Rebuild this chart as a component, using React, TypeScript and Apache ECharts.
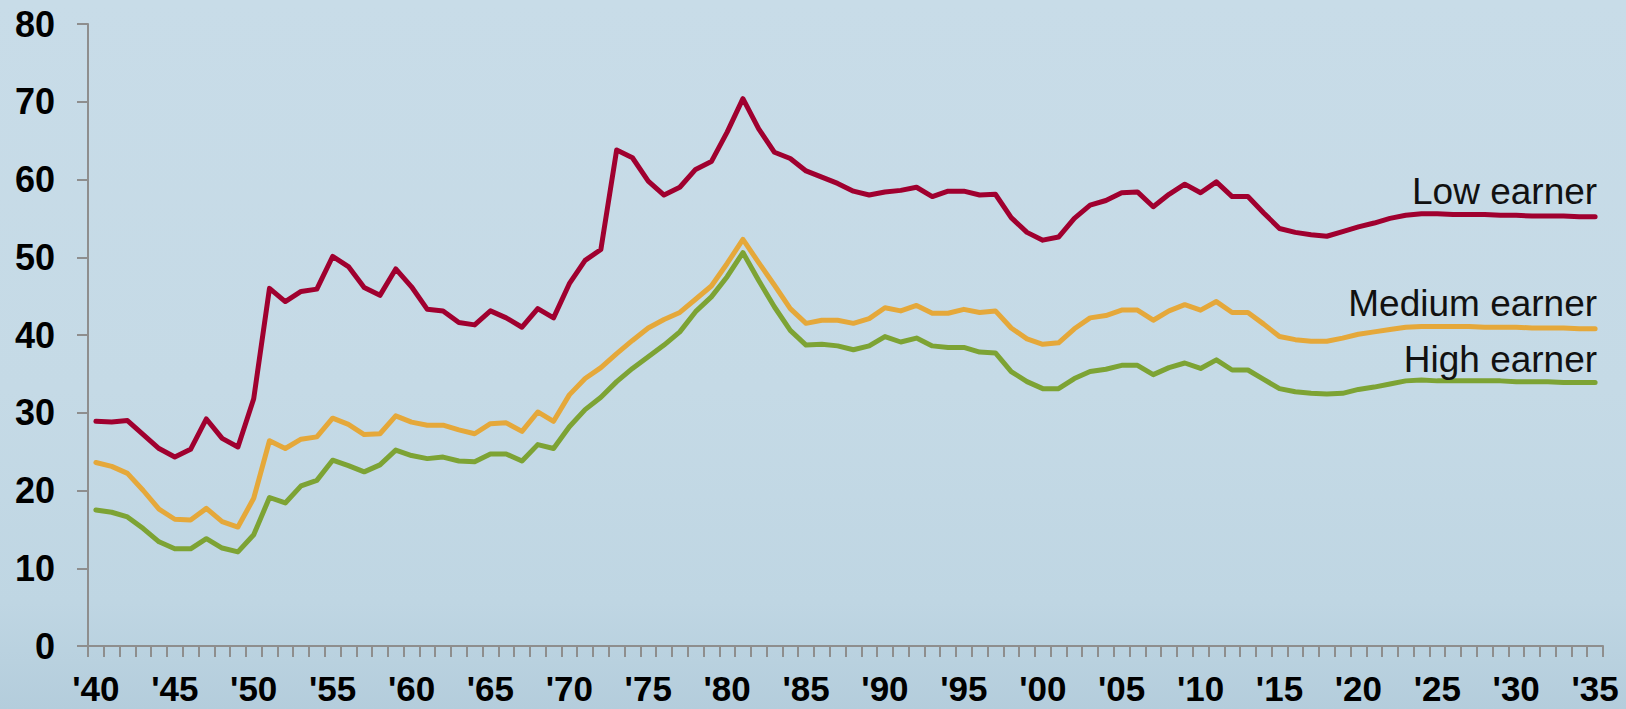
import React, { useEffect, useRef } from "react";
import * as echarts from "echarts";

const years = [
  1940, 1941, 1942, 1943, 1944, 1945, 1946, 1947, 1948, 1949,
  1950, 1951, 1952, 1953, 1954, 1955, 1956, 1957, 1958, 1959,
  1960, 1961, 1962, 1963, 1964, 1965, 1966, 1967, 1968, 1969,
  1970, 1971, 1972, 1973, 1974, 1975, 1976, 1977, 1978, 1979,
  1980, 1981, 1982, 1983, 1984, 1985, 1986, 1987, 1988, 1989,
  1990, 1991, 1992, 1993, 1994, 1995, 1996, 1997, 1998, 1999,
  2000, 2001, 2002, 2003, 2004, 2005, 2006, 2007, 2008, 2009,
  2010, 2011, 2012, 2013, 2014, 2015, 2016, 2017, 2018, 2019,
  2020, 2021, 2022, 2023, 2024, 2025, 2026, 2027, 2028, 2029,
  2030, 2031, 2032, 2033, 2034, 2035,
];

const lowEarner = [
  28.9, 28.8, 29.0, 27.2, 25.4, 24.3, 25.3, 29.2, 26.7, 25.6,
  31.8, 46.0, 44.3, 45.6, 45.9, 50.1, 48.8, 46.1, 45.1, 48.5,
  46.2, 43.3, 43.1, 41.6, 41.3, 43.1, 42.2, 41.0, 43.4, 42.2,
  46.6, 49.6, 51.0, 63.8, 62.8, 59.8, 58.0, 59.0, 61.3, 62.3,
  66.1, 70.4, 66.5, 63.5, 62.7, 61.1, 60.3, 59.5, 58.5, 58.0,
  58.4, 58.6, 59.0, 57.8, 58.5, 58.5, 58.0, 58.1, 55.1, 53.2,
  52.2, 52.6, 55.0, 56.7, 57.3, 58.3, 58.4, 56.5, 58.1, 59.4,
  58.3, 59.7, 57.8, 57.8, 55.7, 53.7, 53.2, 52.9, 52.7, 53.3,
  53.9, 54.4, 55.0, 55.4, 55.6, 55.6, 55.5, 55.5, 55.5, 55.4,
  55.4, 55.3, 55.3, 55.3, 55.2, 55.2,
];

const mediumEarner = [
  23.6, 23.1, 22.2, 20.0, 17.6, 16.3, 16.2, 17.7, 16.0, 15.3,
  19.0, 26.4, 25.4, 26.6, 26.9, 29.3, 28.5, 27.2, 27.3, 29.6,
  28.8, 28.4, 28.4, 27.8, 27.3, 28.6, 28.7, 27.6, 30.1, 28.9,
  32.3, 34.4, 35.8, 37.6, 39.3, 40.9, 42.0, 42.9, 44.6, 46.3,
  49.2, 52.3, 49.3, 46.4, 43.4, 41.5, 41.9, 41.9, 41.5, 42.1,
  43.5, 43.1, 43.8, 42.8, 42.8, 43.3, 42.9, 43.1, 40.9, 39.5,
  38.8, 39.0, 40.8, 42.2, 42.5, 43.2, 43.2, 41.9, 43.1, 43.9,
  43.2, 44.3, 42.9, 42.9, 41.4, 39.8, 39.4, 39.2, 39.2, 39.6,
  40.1, 40.4, 40.7, 41.0, 41.1, 41.1, 41.1, 41.1, 41.0, 41.0,
  41.0, 40.9, 40.9, 40.9, 40.8, 40.8,
];

const highEarner = [
  17.5, 17.2, 16.6, 15.1, 13.4, 12.5, 12.5, 13.8, 12.6, 12.1,
  14.3, 19.1, 18.4, 20.6, 21.3, 23.9, 23.2, 22.4, 23.3, 25.2,
  24.5, 24.1, 24.3, 23.8, 23.7, 24.7, 24.7, 23.8, 25.9, 25.4,
  28.2, 30.4, 32.0, 34.0, 35.7, 37.2, 38.7, 40.4, 43.0, 44.9,
  47.5, 50.6, 47.0, 43.6, 40.6, 38.7, 38.8, 38.6, 38.1, 38.6,
  39.8, 39.1, 39.6, 38.6, 38.4, 38.4, 37.8, 37.7, 35.3, 34.0,
  33.1, 33.1, 34.4, 35.3, 35.6, 36.1, 36.1, 34.9, 35.8, 36.4,
  35.7, 36.8, 35.5, 35.5, 34.3, 33.1, 32.7, 32.5, 32.4, 32.5,
  33.0, 33.3, 33.7, 34.1, 34.2, 34.1, 34.1, 34.1, 34.1, 34.1,
  34.0, 34.0, 34.0, 33.9, 33.9, 33.9,
];

const seriesNames = ["Low earner", "Medium earner", "High earner"];
const seriesColors = ["#a0002f", "#e5a83a", "#7da334"];
const labelOffsets = [-7, -7, -4];

const FONT = '"Liberation Sans", Arial, sans-serif';

export default function App() {
  const ref = useRef<HTMLDivElement>(null);

  useEffect(() => {
    if (!ref.current) return;
    const chart = echarts.init(ref.current, undefined, { renderer: "svg" });
    const allData = [lowEarner, mediumEarner, highEarner];
    chart.setOption({
      animation: false,
      backgroundColor: "transparent",
      grid: { left: 88, right: 23, top: 24, bottom: 63, containLabel: false },
      xAxis: {
        type: "category",
        data: years.map(String),
        boundaryGap: true,
        axisLine: { show: true, lineStyle: { color: "#8e8e8e", width: 2 } },
        axisTick: { show: true, interval: 0, length: 11, inside: false, lineStyle: { color: "#8e8e8e", width: 2 } },
        axisLabel: {
          interval: 4,
          margin: 28,
          lineHeight: 28,
          color: "#000",
          fontFamily: FONT,
          fontWeight: "bold",
          fontSize: 35,
          formatter: (v: string) => "'" + v.slice(2),
        },
        splitLine: { show: false },
      },
      yAxis: {
        type: "value",
        min: 0,
        max: 80,
        interval: 10,
        axisLine: { show: true, lineStyle: { color: "#8e8e8e", width: 2 } },
        axisTick: { show: true, length: 11, lineStyle: { color: "#8e8e8e", width: 2 } },
        axisLabel: {
          margin: 33,
          color: "#000",
          fontFamily: FONT,
          fontWeight: "bold",
          fontSize: 36,
        },
        splitLine: { show: false },
      },
      series: allData.map((d, i) => ({
        name: seriesNames[i],
        type: "line",
        data: d,
        showSymbol: false,
        symbol: "none",
        lineStyle: { color: seriesColors[i], width: 5, join: "round", cap: "round" },
        itemStyle: { color: seriesColors[i] },
        endLabel: {
          show: true,
          formatter: () => seriesNames[i],
          align: "right",
          verticalAlign: "bottom",
          distance: 0,
          offset: [2, labelOffsets[i]],
          color: "#111",
          fontFamily: FONT,
          fontSize: 37,
        },
      })),
    });
    return () => chart.dispose();
  }, []);

  return (
    <div
      ref={ref}
      style={{
        position: "absolute",
        left: 0,
        top: 0,
        width: 1626,
        height: 709,
        background: "linear-gradient(to bottom, #c8dce8 0%, #c5dae6 55%, #bfd6e3 85%, #b4cddc 100%)",
      }}
    />
  );
}
